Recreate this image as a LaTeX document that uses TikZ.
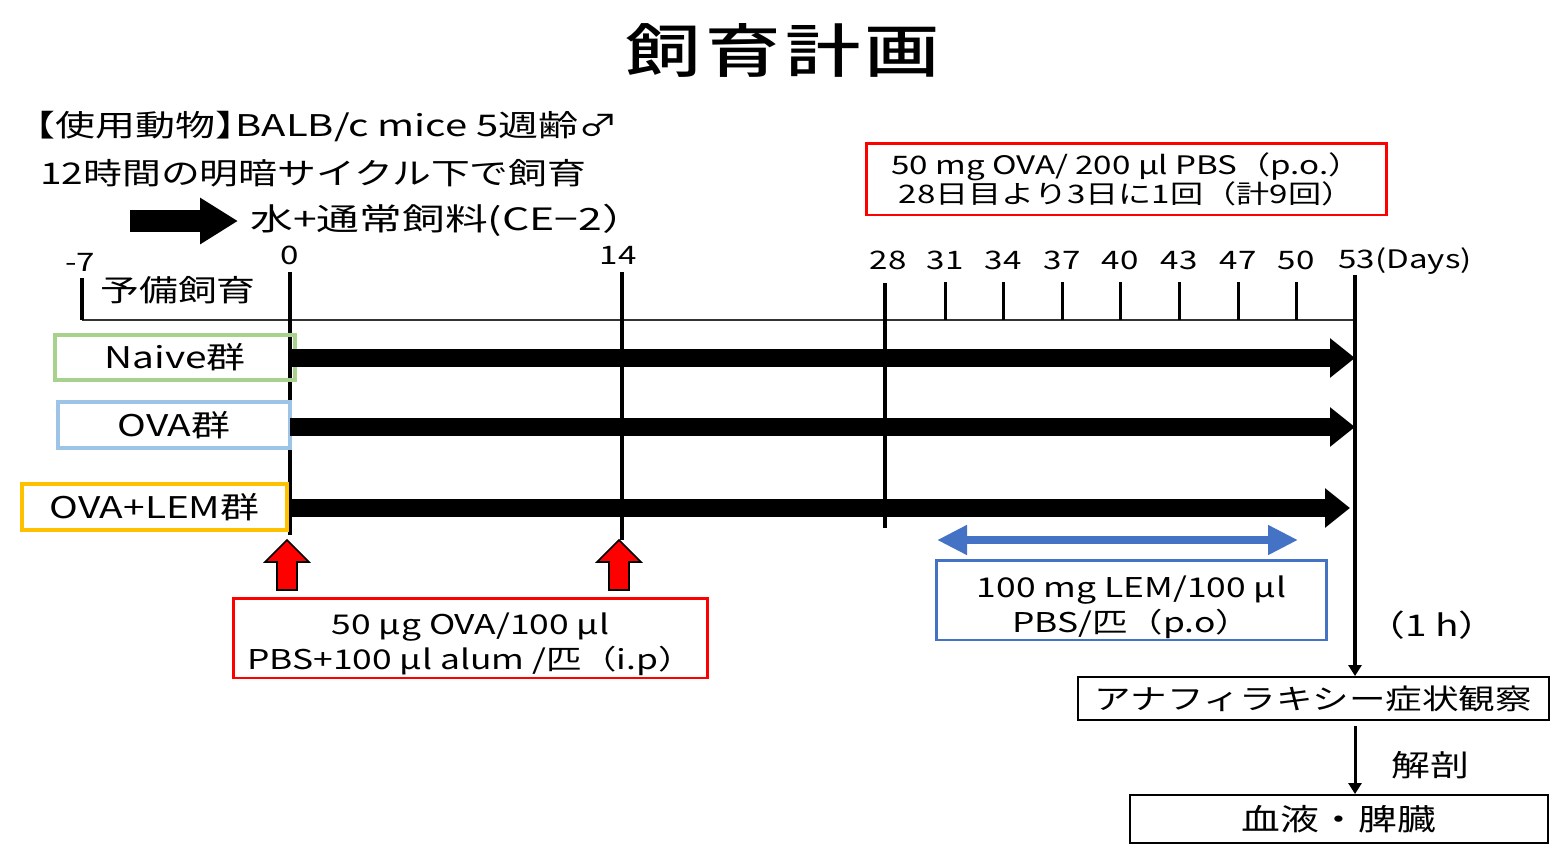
\documentclass[tikz,border=0pt]{standalone}
\usepackage{graphicx}
\usepackage{fontspec}
\setmainfont{Noto Sans CJK JP}
\newfontfamily\titlefont{Noto Sans CJK JP}[UprightFont=* Medium]
\usetikzlibrary{arrows.meta}
\newcommand{\sx}[1]{\scalebox{1.3}[1]{#1}}
\definecolor{cgreen}{HTML}{A9D18E}
\definecolor{cblue}{HTML}{9DC3E6}
\definecolor{corange}{HTML}{FFC000}
\definecolor{cred}{HTML}{FF0000}
\definecolor{cdblue}{HTML}{4472C4}
\begin{document}
\begin{tikzpicture}[x=0.02cm,y=-0.02cm,
  txt/.style={inner sep=0pt, font=\fontsize{17}{20}\selectfont},
  axl/.style={inner sep=0pt, font=\fontsize{14.5}{17}\selectfont},
  grp/.style={draw, line width=2.3pt, inner sep=0pt, font=\fontsize{17}{20}\selectfont},
  infobox/.style={draw, line width=1.7pt, inner sep=0pt, align=center, font=\fontsize{15.5}{20.2}\selectfont},
  plainbox/.style={draw, line width=1.1pt, inner sep=0pt, font=\fontsize{16}{19}\selectfont},
  dayline/.style={line width=2.3pt},
  smalltick/.style={line width=1.7pt},
  garrow/.style={line width=0.36cm, -{Triangle[length=0.5cm,width=0.76cm]}},
  bigarrow/.style={line width=0.44cm, -{Triangle[length=0.76cm,width=0.88cm]}},
  redup/.style={fill=cred, draw=black, line width=0.9pt, line join=miter},
  bluearrow/.style={cdblue, line width=0.16cm, {Triangle[length=0.6cm,width=0.56cm]}-{Triangle[length=0.6cm,width=0.56cm]}},
  flowarrow/.style={line width=1.7pt, -{Triangle[length=0.22cm,width=0.26cm]}}
]
\useasboundingbox (0,0) rectangle (1551,849);

% title
\node[inner sep=0pt, font=\fontsize{33}{36}\titlefont] (title) at (783,50) {\sx{飼\hspace{1.9pt}育\hspace{1.9pt}計\hspace{1.9pt}画}};

% header lines
\node[txt, anchor=west] (l1) at (35,127) {\addfontfeature{RawFeature=+halt}\scalebox{1.34}[1]{【使用動物】BALB/c mice 5週齢♂}};
\node[txt, anchor=west] (l2) at (40,173) {\sx{12時間の明暗サイクル下で飼育}};
\node[txt, anchor=west, font=\fontsize{17.5}{20}\selectfont] (water) at (250,220) {\scalebox{1.39}[1]{水+通常飼料(CE−2）}};
\coordinate (wa) at (130,221);
\draw[bigarrow] (wa) -- (238,221);

% top red box
\node[infobox, draw=cred, minimum width=10.42cm, minimum height=1.44cm, font=\fontsize{14.5}{16.5}\selectfont] (oral) at (1126.5,179)
  {\sx{50 mg OVA/ 200 μl PBS（p.o.）}\\\sx{28日目より3日に1回（計9回）}};

% axis
\coordinate (cm7) at (82,278);
\coordinate (c0) at (290,272);
\coordinate (c14) at (622,272);
\coordinate (c28) at (885,283);
\coordinate (c53) at (1355,275);
\draw[line width=1.2pt, black!80] (82,320) -- (1355,320);
\draw[dayline] (cm7) -- (82,320);
\draw[dayline] (c0) -- (290,535);
\draw[dayline] (c14) -- (622,540);
\draw[dayline] (c28) -- (885,528);
\foreach \xx in {945,1003,1062,1120,1179,1238,1296}
  \draw[smalltick] (\xx,282) -- (\xx,320);

\node[axl] (tm7) at (80,262) {\sx{-7}};
\node[axl] (t0) at (290,255) {\sx{0}};
\node[axl] (t14) at (618,255) {\sx{14}};
\node[axl] (t28) at (888,260) {\sx{28}};
\node[axl] (t31) at (945,260) {\sx{31}};
\node[axl] (t34) at (1003,260) {\sx{34}};
\node[axl] (t37) at (1062,260) {\sx{37}};
\node[axl] (t40) at (1120,260) {\sx{40}};
\node[axl] (t43) at (1179,260) {\sx{43}};
\node[axl] (t47) at (1238,260) {\sx{47}};
\node[axl] (t50) at (1296,260) {\sx{50}};
\node[axl, anchor=west] (t53) at (1338,261) {\sx{53(Days)}};
\node[txt] (prep) at (178,290) {\sx{予備飼育}};

% groups
\node[grp, draw=cgreen, minimum width=4.8cm, minimum height=0.9cm] (naive) at (175,357.5) {\sx{Naive群}};
\node[grp, draw=cblue, minimum width=4.64cm, minimum height=0.92cm] (ova) at (174,425) {\sx{OVA群}};
\node[grp, draw=corange, minimum width=5.3cm, minimum height=0.92cm] (lem) at (154.5,507) {\sx{OVA+LEM群}};

\draw[garrow] (290,358) -- (1355,358);
\draw[garrow] (290,427) -- (1355,427);
\draw[garrow] (290,508) -- (1350,508);

% red up arrows
\foreach \xx in {287,619}
  \draw[redup] (\xx-10,590) -- (\xx-10,562) -- (\xx-22,562) -- (\xx,540) -- (\xx+22,562) -- (\xx+10,562) -- (\xx+10,590) -- cycle;

% red box
\node[infobox, draw=cred, minimum width=9.5cm, minimum height=1.6cm] (ip) at (470.5,638)
  {\sx{\rule{0pt}{19.3pt}50 µg OVA/100 µl}\\\sx{PBS+100 µl alum /匹（i.p）}};

% blue arrow and box
\coordinate (ba) at (937,540);
\coordinate (bb) at (1298,540);
\draw[bluearrow] (ba) -- (bb);
\node[infobox, draw=cdblue, minimum width=7.82cm, minimum height=1.6cm] (lemb) at (1131.5,600)
  {\sx{\rule{0pt}{20.5pt}100 mg LEM/100 µl}\\\sx{PBS/匹（p.o）}};

% right flow
\node[plainbox, minimum width=9.42cm, minimum height=0.86cm] (ana) at (1313.5,698.5) {\sx{アナフィラキシー症状観察}};
\node[plainbox, minimum width=8.36cm, minimum height=0.96cm, font=\fontsize{17}{20}\selectfont] (blood) at (1339,819) {\sx{血液・脾臓}};
\draw[dayline, -{Triangle[length=0.22cm,width=0.26cm]}] (c53) -- (c53 |- ana.north);
\draw[flowarrow] ([yshift=-0.1cm]c53 |- ana.south) -- (c53 |- blood.north);
\node[txt] (oneh) at (1432,625) {\sx{（1 h）}};
\node[txt] (dis) at (1430,765) {\sx{解剖}};
\end{tikzpicture}
\end{document}
